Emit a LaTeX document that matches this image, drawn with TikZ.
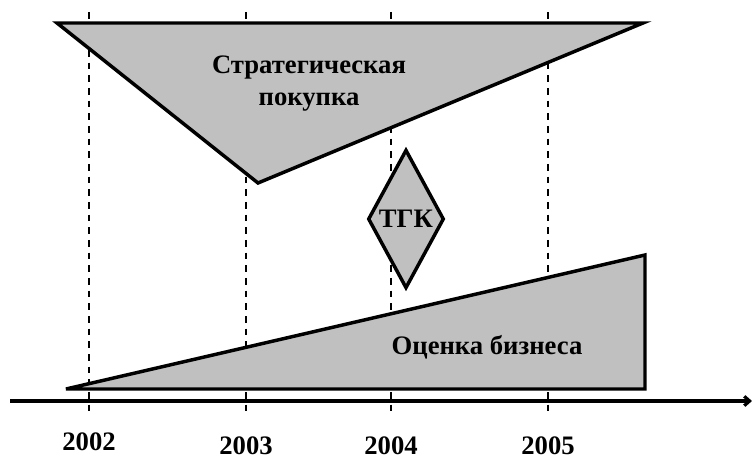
\documentclass[tikz,border=0pt]{standalone}
\usepackage{fontspec}
\setmainfont{Liberation Serif}
\usetikzlibrary{arrows.meta,shapes.geometric}
\definecolor{Shade}{HTML}{C0C0C0}

\begin{document}
\begin{tikzpicture}[x=0.75pt,y=-0.75pt,
    lbl/.style={font=\fontsize{20}{24}\selectfont\bfseries},
    band/.style={fill=Shade,draw=black,line width=2.6pt,miter limit=6},
    yeargrid/.style={line width=1.4pt,dash pattern=on 5pt off 4.5pt}]
    \useasboundingbox (0,0) rectangle (752,459);
    % years
    \foreach \x/\yr/\yb in {89/2002/450,246/2003/454,391/2004/454,548/2005/454}{
      \draw[yeargrid] (\x,12) -- (\x,413);
      \node[lbl,anchor=base] (y\yr) at (\x,\yb) {\yr};
    }
    \filldraw[band] (57,23) -- (643,23) -- (258,183) -- cycle;
    \node[lbl,align=center] (buy) at (309,84) {Стратегическая\\покупка};
    \filldraw[band] (66,389) -- (645,255) -- (645,389) -- cycle;
    \node[lbl,anchor=base] (value) at (487,354) {Оценка бизнеса};
    \node[lbl,band,diamond,inner sep=0pt,aspect=0.55,
      minimum width=57pt,minimum height=104pt] (tgk) at (406,219) {ТГК};
    \coordinate (ax0) at (10,401);
    \coordinate (ax1) at (752,401);
    \draw[line width=2.4pt,-{Straight Barb[length=4pt,width=7pt]}] (ax0) -- (ax1);
  \end{tikzpicture}
\end{document}
